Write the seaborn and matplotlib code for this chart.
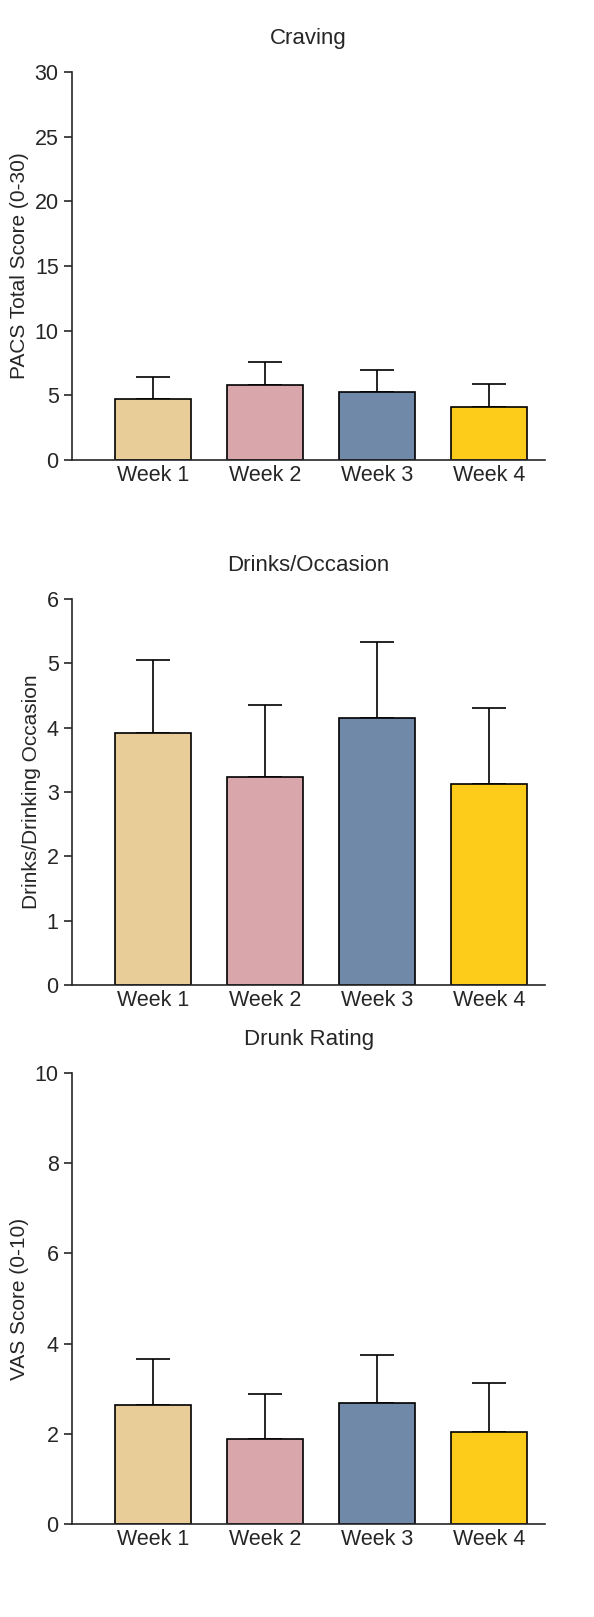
import matplotlib
matplotlib.use("Agg")
import matplotlib.pyplot as plt
import seaborn as sns
import pandas as pd

weeks = ["Week 1", "Week 2", "Week 3", "Week 4"]
colors = ["#E8CD98", "#D9A7AB", "#7089A8", "#FDCB1A"]

craving_mean = [4.7, 5.8, 5.25, 4.1]
craving_sd = [1.7, 1.8, 1.7, 1.8]
drinks_mean = [3.92, 3.23, 4.15, 3.12]
drinks_sd = [1.13, 1.12, 1.18, 1.18]
drunk_mean = [2.64, 1.88, 2.68, 2.04]
drunk_sd = [1.02, 1.0, 1.06, 1.08]

panels = [
    ("Craving", "PACS Total Score (0-30)", craving_mean, craving_sd, 30, range(0, 31, 5),
     [0.121, 0.7155, 0.797, 0.24]),
    ("Drinks/Occasion", "Drinks/Drinking Occasion", drinks_mean, drinks_sd, 6, range(0, 7),
     [0.121, 0.3909, 0.797, 0.2387]),
    ("Drunk Rating", "VAS Score (0-10)", drunk_mean, drunk_sd, 10, range(0, 11, 2),
     [0.121, 0.0575, 0.797, 0.2789]),
]

sns.set_style("ticks")
plt.rcParams["font.family"] = ["Liberation Sans", "DejaVu Sans"]
fig = plt.figure(figsize=(5.94, 16.17), dpi=100)

for title, ylabel, means, sds, ymax, ticks, rect in panels:
    ax = fig.add_axes(rect)
    df = pd.DataFrame({"week": weeks, "value": means})
    sns.barplot(data=df, x="week", y="value", hue="week", palette=colors, legend=False,
                saturation=1, width=0.68, edgecolor="black", linewidth=1.2, ax=ax, zorder=2)
    ax.errorbar(range(len(weeks)), means, yerr=[[0] * len(sds), sds], fmt="none",
                ecolor="black", elinewidth=1.2, capsize=12, capthick=1.2, zorder=1)
    ax.set_ylim(0, ymax)
    ax.set_yticks(list(ticks))
    ax.set_xlim(-0.72, 3.5)
    ax.set_xlabel("")
    ax.set_ylabel(ylabel, fontsize=15)
    ax.set_title(title, fontsize=16, pad=20)
    ax.tick_params(labelsize=15.5, width=1.2, length=6)
    ax.tick_params(axis="x", length=0)
    for s in ["left", "bottom"]:
        ax.spines[s].set_linewidth(1.2)
    sns.despine(ax=ax)

fig.savefig("out.png", dpi=100)
